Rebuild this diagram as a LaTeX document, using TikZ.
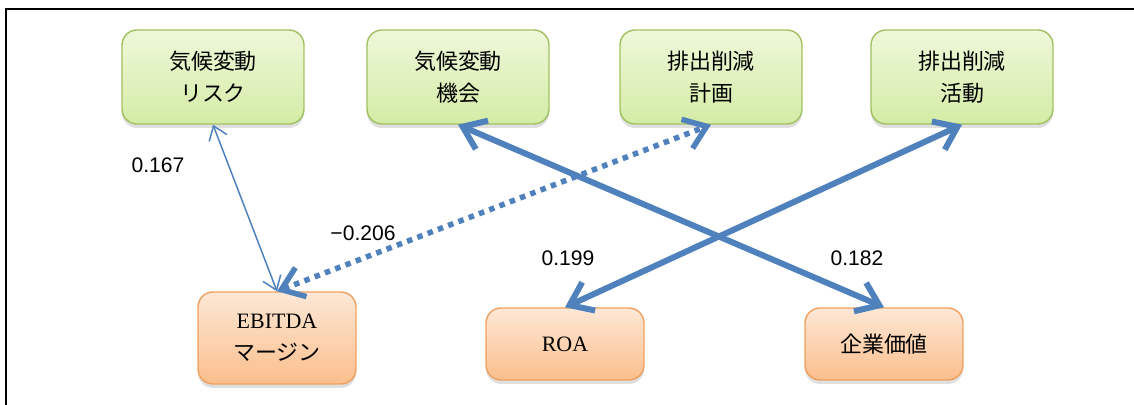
\documentclass[tikz,border=0pt]{standalone}
\usepackage{fontspec}
\setmainfont{Liberation Serif}
\newfontfamily\jpfont{Noto Sans CJK JP}
\newfontfamily\numfont{Liberation Sans}
\definecolor{linkblue}{RGB}{79, 129, 189}
\definecolor{greenline}{RGB}{160, 192, 96}
\definecolor{greentop}{RGB}{238, 248, 218}
\definecolor{greenbot}{RGB}{212, 236, 166}
\definecolor{orangeline}{RGB}{238, 160, 96}
\definecolor{orangetop}{RGB}{253, 232, 214}
\definecolor{orangebot}{RGB}{251, 190, 140}
\usetikzlibrary{arrows.meta}
\usetikzlibrary{shadows}
\usetikzlibrary{positioning}
\tikzset{
  box/.style={
    rounded corners=0.3cm, line width=0.8pt, align=center, inner sep=0,
    font=\jpfont\fontsize{12.5}{18}\selectfont,
    drop shadow={shadow xshift=0pt, shadow yshift=-0.08cm, opacity=0.25}
  },
  factor/.style={box, draw=greenline, top color=greentop, bottom color=greenbot,
    minimum width=3.64cm, minimum height=1.88cm},
  outcome/.style={box, draw=orangeline, top color=orangetop, bottom color=orangebot,
    minimum width=3.16cm, minimum height=1.44cm},
  coef/.style={font=\numfont\fontsize{12}{14}\selectfont},
  link/.style={{Straight Barb[length=0.42cm,width=0.62cm]}-{Straight Barb[length=0.42cm,width=0.62cm]},
    draw=linkblue, line width=0.12cm},
  thinlink/.style={{Straight Barb[length=0.26cm,width=0.38cm]}-{Straight Barb[length=0.26cm,width=0.38cm]},
    draw=linkblue, line width=0.03cm},
  dotlink/.style={link, line width=0.11cm, dash pattern=on 0.11cm off 0.11cm}
}

\begin{document}
\begin{tikzpicture}[x=0.02cm, y=-0.02cm]
  \useasboundingbox (0,0) rectangle (1134,405);
  \draw [line width=0.04cm] (6,405) -- (6,9) -- (1134,9);

  % upper row
  \node [factor] (risk)   at (213,77) {気候変動\\リスク};
  \node [factor] (chance) at (458,77) {気候変動\\機会};
  \node [factor] (plan)   at (711,77) {排出削減\\計画};
  \node [factor] (action) at (962,77) {排出削減\\活動};

  % lower row
  \node [outcome, minimum height=1.84cm] (ebitda) at (277,338) {{\rmfamily EBITDA}\\マージン};
  \node [outcome] (roa)   at (565,344) {\rmfamily ROA};
  \node [outcome] (value) at (884,344) {企業価値};

  \draw [thinlink] (risk.south) -- (ebitda.north);
  \draw [dotlink] (ebitda.north) -- (plan.south);
  \draw [link] (chance.south) -- (value.north);
  \draw [link] (action.south) -- (roa.north);

  \node [coef] (c1) at (158,165) {0.167};
  \node [coef] (c2) at (363,233) {−0.206};
  \node [coef] (c3) at (568,258) {0.199};
  \node [coef] (c4) at (857,258) {0.182};
\end{tikzpicture}
\end{document}
